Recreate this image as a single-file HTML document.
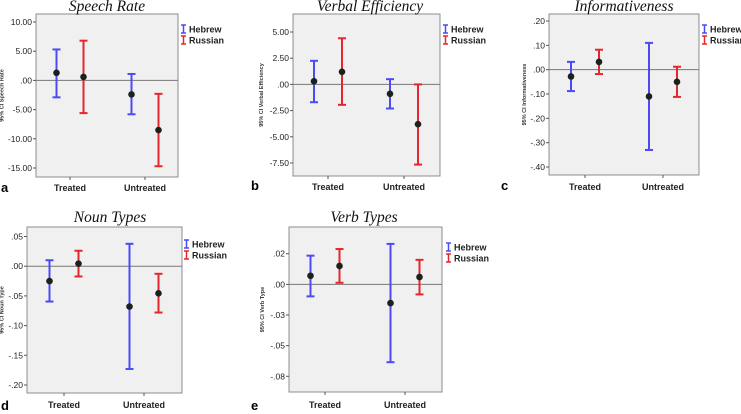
<!DOCTYPE html>
<html><head><meta charset="utf-8"><style>
html,body{margin:0;padding:0;background:#fff;}
svg{display:block;font-family:"Liberation Sans",Arial,sans-serif;}
</style></head><body>
<svg id="fig" width="741" height="414" viewBox="0 0 741 414" xmlns="http://www.w3.org/2000/svg"></svg>
<script>
// Panel a: Speech Rate
const aTicks=[10,5,0,-5,-10,-15];
const aTickLabels=["10.00","5.00",".00","-5.00","-10.00","-15.00"];
const aHebMean=[1.3,-2.4], aHebHi=[5.3,1.1], aHebLo=[-2.9,-5.8];
const aRusMean=[0.6,-8.5], aRusHi=[6.8,-2.3], aRusLo=[-5.6,-14.7];
// Panel b: Verbal Efficiency
const bTicks=[5,2.5,0,-2.5,-5,-7.5];
const bTickLabels=["5.00","2.50",".00","-2.50","-5.00","-7.50"];
const bHebMean=[0.3,-0.9], bHebHi=[2.25,0.5], bHebLo=[-1.7,-2.3];
const bRusMean=[1.2,-3.8], bRusHi=[4.4,0.0], bRusLo=[-1.95,-7.65];
// Panel c: Informativeness
const cTicks=[0.2,0.1,0,-0.1,-0.2,-0.3,-0.4];
const cTickLabels=[".20",".10",".00","-.10","-.20","-.30","-.40"];
const cHebMean=[-0.028,-0.11], cHebHi=[0.032,0.11], cHebLo=[-0.088,-0.33];
const cRusMean=[0.032,-0.05], cRusHi=[0.082,0.012], cRusLo=[-0.018,-0.112];
// Panel d: Noun Types
const dTicks=[0.05,0,-0.05,-0.1,-0.15,-0.2];
const dTickLabels=[".05",".00","-.05","-.10","-.15","-.20"];
const dHebMean=[-0.025,-0.068], dHebHi=[0.01,0.0377], dHebLo=[-0.0595,-0.173];
const dRusMean=[0.0043,-0.0457], dRusHi=[0.026,-0.0128], dRusLo=[-0.0173,-0.078];
// Panel e: Verb Types
const eTicks=[0.025,0,-0.025,-0.05,-0.075];
const eTickLabels=[".02",".00","-.03","-.05","-.08"];
const eHebMean=[0.007,-0.0153], eHebHi=[0.0234,0.033], eHebLo=[-0.0098,-0.0635];
const eRusMean=[0.015,0.006], eRusHi=[0.0288,0.020], eRusLo=[0.0013,-0.0082];
const categories=["Treated","Untreated"];
const seriesNames=["Hebrew","Russian"];

const NS="http://www.w3.org/2000/svg";
const svg=document.getElementById('fig');
const BLUE="#4b4bf5", RED="#e5262d";
function mk(tag,attrs,parent){const e=document.createElementNS(NS,tag);for(const k in attrs)e.setAttribute(k,attrs[k]);(parent||svg).appendChild(e);return e;}

const panels=[
 {id:'a',title:'Speech Rate',ytitle:'95% CI Speech Rate',box:[36,14,178,177],t0:10,y0:22,t1:-15,y1:168,ticks:aTicks,tl:aTickLabels,hm:aHebMean,hh:aHebHi,hl:aHebLo,rm:aRusMean,rh:aRusHi,rl:aRusLo,cx:[70,145],off:13.5,leg:[181,29],lab:[1,192],xl:188,tx:107,ty:11},
 {id:'b',title:'Verbal Efficiency',ytitle:'95% CI Verbal Efficiency',box:[293,14,440,176],t0:5,y0:32,t1:-7.5,y1:163,ticks:bTicks,tl:bTickLabels,hm:bHebMean,hh:bHebHi,hl:bHebLo,rm:bRusMean,rh:bRusHi,rl:bRusLo,cx:[328,404],off:14,leg:[443,29],lab:[251,190],xl:187,tx:370,ty:11},
 {id:'c',title:'Informativeness',ytitle:'95% CI Informativeness',box:[549,14,699,175],t0:0.2,y0:21,t1:-0.4,y1:167,ticks:cTicks,tl:cTickLabels,hm:cHebMean,hh:cHebHi,hl:cHebLo,rm:cRusMean,rh:cRusHi,rl:cRusLo,cx:[585,663],off:14,leg:[702,29],lab:[501,190],xl:187,tx:624,ty:11},
 {id:'d',title:'Noun Types',ytitle:'95% CI Noun Type',box:[27,227,182,393],t0:0.05,y0:236.5,t1:-0.2,y1:385,ticks:dTicks,tl:dTickLabels,hm:dHebMean,hh:dHebHi,hl:dHebLo,rm:dRusMean,rh:dRusHi,rl:dRusLo,cx:[64,144],off:14.5,leg:[184,244],lab:[1,410],xl:405,tx:110,ty:222},
 {id:'e',title:'Verb Types',ytitle:'95% CI Verb Type',box:[289,227,442,392],t0:0.025,y0:253.7,t1:-0.075,y1:376.3,ticks:eTicks,tl:eTickLabels,hm:eHebMean,hh:eHebHi,hl:eHebLo,rm:eRusMean,rh:eRusHi,rl:eRusLo,cx:[325,405],off:14.5,leg:[446,247],lab:[251,410],xl:405,tx:364,ty:222}
];

panels.forEach(p=>{
  const g=mk('g',{});
  
  
  const [x0,yT,x1,yB]=p.box;
  const ys=v=>p.y0+(v-p.t0)*(p.y1-p.y0)/(p.t1-p.t0);
  const bg=mk('rect',{x:x0,y:yT,width:x1-x0,height:yB-yT,fill:'#f0f0f0',stroke:'#8c8c8c','stroke-width':1},g);
  
  
  const zl=mk('line',{x1:x0,x2:x1,y1:ys(0),y2:ys(0),stroke:'#777','stroke-width':1},g);
  
  
  p.ticks.forEach((t,i)=>{
    const y=ys(t);
    mk('line',{x1:x0-3,x2:x0,y1:y,y2:y,stroke:'#555'},g);
    const tx=mk('text',{x:x0-4,y:y+3,'font-size':'8.5','text-anchor':'end',fill:'#222'},g);
    tx.textContent=p.tl[i];
    
    
  });
  categories.forEach((c,i)=>{
    mk('line',{x1:p.cx[i],x2:p.cx[i],y1:yB,y2:yB+3,stroke:'#555'},g);
    const tx=mk('text',{x:p.cx[i],y:p.xl+3,'font-size':'9','font-weight':'bold','text-anchor':'middle',fill:'#222'},g);
    tx.textContent=c;
    
    
  });
  const sers=[[p.hm,p.hh,p.hl,BLUE,-1,'hebrew'],[p.rm,p.rh,p.rl,RED,1,'russian']];
  sers.forEach(([m,h,l,col,sgn,nm])=>{
    m.forEach((v,i)=>{
      const x=p.cx[i]+sgn*p.off;
      const eg=mk('g',{},g);
      
      
      mk('line',{x1:x,x2:x,y1:ys(h[i]),y2:ys(l[i]),stroke:col,'stroke-width':2},eg);
      mk('line',{x1:x-4,x2:x+4,y1:ys(h[i]),y2:ys(h[i]),stroke:col,'stroke-width':2},eg);
      mk('line',{x1:x-4,x2:x+4,y1:ys(l[i]),y2:ys(l[i]),stroke:col,'stroke-width':2},eg);
      mk('circle',{cx:x,cy:ys(v),r:3.3,fill:'#1b221d'},eg);
    });
  });
  seriesNames.forEach((s,i)=>{
    const lx=p.leg[0], ly=p.leg[1]+i*11;
    const col=i?RED:BLUE;
    const lg=mk('g',{},g);
    
    
    mk('path',{d:`M${lx} ${ly-4}h5M${lx} ${ly+4}h5M${lx+2.5} ${ly-4}v8`,stroke:col,'stroke-width':1.5,fill:'none'},lg);
    const t=mk('text',{x:lx+8,y:ly+3.5,'font-size':'9','font-weight':'bold',fill:'#222'},lg);
    t.textContent=s;
  });
  const tt=mk('text',{x:p.tx,y:p.ty,'font-size':'15.5','font-style':'italic','text-anchor':'middle','font-family':'"Liberation Serif",serif',fill:'#111'},g);
  tt.textContent=p.title;
  
  
  const yc=(yT+yB)/2, yx=p.id==='c'?x0-23:(p.id==='e'?x0-25:(p.id==='b'?x0-30:3.5));
  const yt=mk('text',{x:yx,y:yc,'font-size':'5.5','font-weight':'bold','text-anchor':'middle',fill:'#333',transform:`rotate(-90 ${yx} ${yc})`},g);
  yt.textContent=p.ytitle;
  
  
  const lb=mk('text',{x:p.lab[0],y:p.lab[1],'font-size':'13','font-weight':'bold',fill:'#000'},g);
  lb.textContent=p.id;
  
  
});
</script>
</body></html>
